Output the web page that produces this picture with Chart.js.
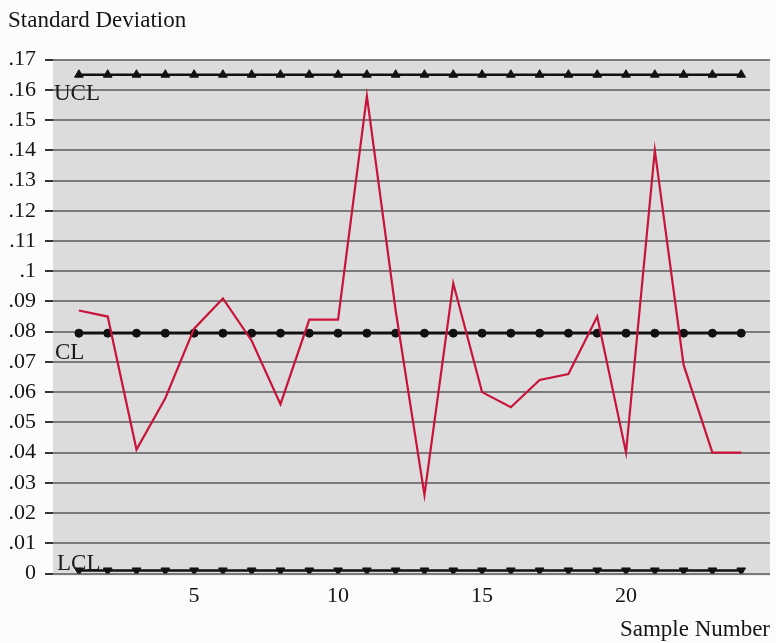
<!DOCTYPE html>
<html>
<head>
<meta charset="utf-8">
<script src="https://cdn.jsdelivr.net/npm/chart.js@4.4.1/dist/chart.umd.min.js"></script>
<style>
  html, body { margin: 0; padding: 0; background: #fcfcfc; }
  #wrap { width: 776px; height: 643px; }
</style>
</head>
<body>
<div id="wrap"><canvas id="c" width="776" height="643"></canvas></div>
<script>
// ---- data ----
const samples = [1,2,3,4,5,6,7,8,9,10,11,12,13,14,15,16,17,18,19,20,21,22,23,24];
const stdDev  = [0.087,0.085,0.041,0.058,0.081,0.091,0.077,0.056,0.084,0.084,0.158,0.087,
                 0.026,0.096,0.060,0.055,0.064,0.066,0.085,0.040,0.140,0.069,0.040,0.040];
const UCL = 0.165;
const CL  = 0.0795;
const LCL = 0.001;
const yTickValues = [0,0.01,0.02,0.03,0.04,0.05,0.06,0.07,0.08,0.09,0.10,0.11,0.12,0.13,0.14,0.15,0.16,0.17];
const yTickLabels = ['0','.01','.02','.03','.04','.05','.06','.07','.08','.09','.1','.11','.12','.13','.14','.15','.16','.17'];
const xTickValues = [5,10,15,20];
const limitLabels = ['UCL','CL','LCL'];

const FONT = "'Liberation Serif', 'DejaVu Serif', serif";
const pts = arr => samples.map((s,i) => ({x: s, y: arr[i]}));
const flat = v => samples.map(s => ({x: s, y: v}));

const plotBg = {
  id: 'plotBg',
  beforeDraw(chart) {
    const {ctx, chartArea: a} = chart;
    ctx.save();
    ctx.fillStyle = '#dcdcdc';
    ctx.fillRect(a.left, a.top, a.right - a.left, a.bottom - a.top + 2);
    ctx.restore();
  }
};

const limitText = {
  id: 'limitText',
  afterDatasetsDraw(chart) {
    const {ctx, chartArea: a, scales: {y}} = chart;
    ctx.save();
    ctx.font = "23px " + FONT;
    ctx.fillStyle = '#1a1a1a';
    ctx.textAlign = 'left';
    ctx.textBaseline = 'alphabetic';
    ctx.fillText(limitLabels[0], a.left + 1, y.getPixelForValue(0.16) + 10);
    ctx.fillText(limitLabels[1], a.left + 2, y.getPixelForValue(0.07) - 3);
    ctx.fillText(limitLabels[2], a.left + 4, y.getPixelForValue(0) - 4);
    ctx.restore();
  }
};

new Chart(document.getElementById('c'), {
  type: 'line',
  data: {
    datasets: [
      { label: 'Standard Deviation', data: pts(stdDev), borderColor: '#c8143a', borderWidth: 2.2,
        pointRadius: 0, tension: 0 },
      { label: 'UCL', data: flat(UCL), borderColor: '#111', borderWidth: 2.5,
        pointStyle: 'triangle', pointRadius: 5, pointBackgroundColor: '#111', pointBorderColor: '#111', pointBorderWidth: 1 },
      { label: 'CL', data: flat(CL), borderColor: '#111', borderWidth: 2.5,
        pointStyle: 'circle', pointRadius: 4, pointBackgroundColor: '#111', pointBorderColor: '#111', pointBorderWidth: 1 },
      { label: 'LCL', data: flat(LCL), borderColor: '#111', borderWidth: 2.5,
        pointStyle: 'triangle', rotation: 180, pointRadius: 5, pointBackgroundColor: '#111', pointBorderColor: '#111', pointBorderWidth: 1 }
    ]
  },
  options: {
    responsive: false,
    animation: false,
    layout: { padding: { left: 8, right: 0, top: 0, bottom: 0 } },
    plugins: {
      legend: { display: false },
      tooltip: { enabled: false },
      title: {
        display: true, text: 'Standard Deviation', align: 'start',
        color: '#151515', font: { family: FONT, size: 23, weight: 'normal' },
        padding: { top: 7, bottom: 25 }
      }
    },
    scales: {
      x: {
        type: 'linear', min: 0.1, max: 25,
        afterBuildTicks: s => { s.ticks = xTickValues.map(v => ({value: v})); },
        grid: { display: false },
        border: { display: false },
        ticks: { color: '#151515', font: { family: FONT, size: 22, lineHeight: 1.1 }, padding: 3, maxRotation: 0 },
        title: { display: true, text: 'Sample Number', align: 'end', color: '#151515',
                 font: { family: FONT, size: 23, lineHeight: 1.1 }, padding: { top: 6, bottom: 0 } }
      },
      y: {
        min: 0, max: 0.17,
        afterBuildTicks: s => { s.ticks = yTickValues.map(v => ({value: v})); },
        afterFit: s => { s.width = 45; },
        grid: { color: '#7a7a7a', lineWidth: 2, tickColor: '#333', tickLength: 8, drawTicks: true },
        border: { display: false },
        ticks: { color: '#151515', font: { family: FONT, size: 22 }, padding: 9,
                 callback: (v, i) => yTickLabels[i] }
      }
    }
  },
  plugins: [plotBg, limitText]
});
</script>
</body>
</html>
